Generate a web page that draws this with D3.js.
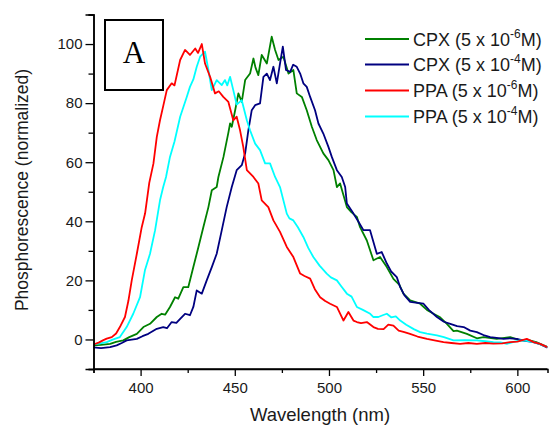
<!DOCTYPE html>
<html><head><meta charset="utf-8">
<script src="https://cdn.jsdelivr.net/npm/d3@7"></script>
<style>body{margin:0;background:#fff}svg{display:block}</style>
</head><body>
<script>
// Data (wavelength nm, normalized phosphorescence)
const cpx6 = [[375,-2],[379,-1.8],[383.8,-1.5],[387,-0.8],[390.8,-0.3],[394,0.8],[398,1.9],[401.5,4.2],[405,5.3],[408.6,7.6],[411.2,8.7],[413,8.4],[415.6,11],[418.3,14.3],[420,13.8],[422.7,17.7],[425.3,17.7],[428,24.5],[430.7,31.3],[433.3,38],[436,44.8],[437.8,50.5],[440.4,51.6],[441.3,55],[444,61.8],[446.6,70],[447.5,73.1],[448.4,72],[450.2,77.6],[451.9,83.3],[453.7,80.4],[455.5,87.8],[458.1,90],[459.9,95.1],[461,92],[462.5,89.5],[464.3,96.3],[465.5,95],[467,93.4],[469.6,102.5],[471.4,98],[473.2,94.6],[475.8,95.7],[478.5,90],[481.1,91.2],[482.9,83.3],[485.6,82.1],[488.2,77.6],[490.9,72],[493.5,67.5],[497,63],[499.7,60.7],[502.4,57.3],[504.2,51.6],[505.9,52.8],[509.5,44.8],[512,43],[514.8,41.5],[516.5,38],[520.1,33.5],[523.6,26.8],[527.1,27.9],[530.7,24.5],[534.2,20.5],[537.4,18.5],[539.5,15.5],[543.1,13.2],[548.4,12.1],[552,10],[555.5,8.7],[559,7.5],[562.6,5.3],[566.1,2.8],[567.9,3],[573.2,1.9],[578.5,0.4],[582,0.8],[589.1,0.2],[596.2,0.8],[601.5,-0.3],[606,-0.2],[610,-0.9],[616,-2.6]];
const cpx4 = [[375,-2.7],[379,-2.9],[383.8,-2.6],[387.3,-2],[390,-1.2],[392.6,-0.3],[398,0.2],[401,1.1],[404.1,1.9],[408.6,3.6],[412,4.2],[414,3.8],[416.5,5.9],[419,5.6],[421,7],[423.6,8.7],[426.2,8.2],[428,11],[429.8,16.6],[432.5,15.5],[435.1,20],[437.8,24.5],[440.4,29],[443.1,37],[445.7,44.8],[448.4,51.6],[451,57.3],[453.7,59],[455.5,63],[457.2,70.8],[459,77.6],[460.8,79.3],[463.4,79.9],[465.2,88.9],[467,90],[468.7,87.8],[470.5,92.3],[472.3,86.7],[474,93.4],[475.5,99.1],[477.2,91.2],[479.4,90.6],[481,93],[482.9,92.3],[484.7,90],[486.4,86.7],[488.2,85.5],[490,82.1],[492.6,77.6],[494.4,73.1],[497,69.7],[499.7,65.2],[501.5,61.8],[504.2,57.3],[506.8,55],[508.6,51.6],[509.5,46],[513,42.6],[515.5,40],[518.3,37],[521.8,37],[525.4,29],[528,29.6],[530.7,25.7],[533,23],[536,21.1],[537.8,17.7],[540,15],[543.1,12.7],[546,12.5],[550.2,12.1],[553,10],[557.3,7.6],[561,6],[564.4,5.3],[568,4.5],[571.5,4.2],[575,3],[578.5,2.5],[582,1.5],[585.6,0.8],[589,0.5],[592.6,0.2],[596,0.4],[599.7,0.2],[604,-0.5],[608,-0.8],[612,-1.6],[616,-2.8]];
const ppa6 = [[375,-1.7],[378,-1],[380,-0.3],[382,0.3],[384.7,0.8],[387,2],[389,4.2],[391.7,7.6],[393.5,13],[395.3,20],[398,29],[400.6,38],[402.4,42.7],[404.6,53],[406.8,59.5],[408.6,68.6],[410.3,74.2],[412,79],[413.9,84.4],[416.5,86.7],[418,86],[421,94.6],[423.6,98],[426.2,96.3],[429,98.5],[430.5,97],[432.5,100],[434.2,93.4],[436.9,88.9],[439.5,83.3],[441.5,84],[443.9,82.1],[446.6,80.4],[449.2,74.2],[451,75.4],[452.8,70.8],[454.5,65.2],[456.4,57.3],[458.1,56.2],[459.9,55],[462.5,52.8],[464.3,47.1],[467.8,44.8],[470.5,40.3],[474,36.4],[477.6,31.3],[481.1,27.9],[484.7,22.3],[487,21.5],[490,20.6],[492.5,17],[495.3,14.3],[498,13],[500.6,12.1],[504.2,11],[507.7,6.4],[510.3,9.3],[513,6.4],[514.8,5.9],[517,5.5],[520.1,5.9],[523.6,4.2],[526,3.6],[529,3.5],[531.5,5],[534.2,4.7],[537,3],[540,2.5],[543,1.9],[547,1],[552,0.2],[556,-0.3],[560.8,-0.9],[565,-1.2],[569.6,-1.5],[574,-1.2],[578.5,-1.5],[583,-1.2],[587.3,-1.4],[592,-1.3],[596.2,-0.9],[600,-0.7],[605,0.2],[608.6,-0.9],[612,-1.5],[616,-2.6]];
const ppa4 = [[375,-1.5],[378,-1.4],[382,-0.9],[385.5,0],[389,0.8],[392.6,4.2],[396.1,8.7],[399.7,14.3],[402.3,23.4],[405,29],[407.7,37],[410.3,47.1],[412,51.6],[413.5,55],[415.6,61.8],[418,67],[421,75.4],[424.5,82.1],[426.2,85.5],[428,88],[429.8,92.3],[431.6,95.7],[434.2,97.4],[436,91.2],[437.8,84.4],[440.4,87.8],[443.1,86.1],[444.8,87.8],[446,86],[447.5,88.9],[449.2,84.4],[451,79.5],[453.7,81],[456.4,74.2],[458.1,70.8],[460.8,66.3],[463.4,64.1],[466.1,59.6],[468.7,59.6],[471.4,55],[474,51.6],[477.6,42.6],[479,41],[481.1,40.3],[483.5,38],[486.4,34.7],[489,31],[491.7,27.9],[495,25],[498.8,22.3],[501,21],[504.2,20],[506.5,18],[509.5,15.5],[512,14.5],[514.8,11],[518,10],[521.9,8.7],[523.6,7.6],[526.2,7.6],[528.5,8.2],[530.7,8.7],[533,7.5],[535.5,7.8],[537.8,6.4],[541,5],[545,3.5],[548.4,2.5],[552,2],[557.3,1.4],[561,0.8],[566.1,-0.3],[572,-0.2],[578.5,-0.3],[583,-0.6],[587.3,-0.9],[591,-1],[594.4,-1.5],[598,-0.8],[601.5,-0.3],[605,-0.5],[608.6,-0.9],[612,-1.6],[616,-2.6]];

const seriesNames = ["CPX (5 x 10", "CPX (5 x 10", "PPA (5 x 10", "PPA (5 x 10"];
const seriesExp = ["-6", "-4", "-6", "-4"];
const seriesColors = ["#008000", "#000080", "#ff0000", "#00ffff"];
const seriesData = [cpx6, cpx4, ppa6, ppa4];
const drawOrder = [0, 1, 3, 2];

const xMajorTicks = [400, 450, 500, 550, 600];
const xMinorTicks = [375, 425, 475, 525, 575];
const yMajorTicks = [0, 20, 40, 60, 80, 100];
const yMinorTicks = [-10, 10, 30, 50, 70, 90, 110];

const W = 550, H = 427;
const FONT = "Arial, 'Liberation Sans', sans-serif";
const svg = d3.select("body").append("svg").attr("width", W).attr("height", H)
  .style("font-family", FONT);

const x = d3.scaleLinear().domain([375, 616]).range([93.5, 547.5]);
const y = d3.scaleLinear().domain([-10, 110]).range([369, 14.5]);

svg.append("defs").append("clipPath").attr("id", "clip")
  .append("rect").attr("x", x(375)).attr("y", y(110)).attr("width", x(616) - x(375)).attr("height", y(-10) - y(110));

const line = d3.line().x(d => x(d[0])).y(d => y(d[1]));
const g = svg.append("g").attr("clip-path", "url(#clip)");
drawOrder.forEach(i => {
  g.append("path").datum(seriesData[i]).attr("d", line)
    .attr("fill", "none").attr("stroke", seriesColors[i]).attr("stroke-width", 1.8)
    .attr("stroke-linejoin", "round");
});

// Axes
const xAxis = svg.append("g").attr("transform", `translate(0,${y(-10)})`)
  .call(d3.axisBottom(x).tickValues(xMajorTicks).tickSize(7).tickPadding(6).tickFormat(d3.format("d")));
svg.append("g").attr("transform", `translate(0,${y(-10)})`)
  .call(d3.axisBottom(x).tickValues(xMinorTicks).tickSize(4).tickFormat(""));
const yAxis = svg.append("g").attr("transform", `translate(${x(375)},0)`)
  .call(d3.axisLeft(y).tickValues(yMajorTicks).tickSize(8).tickPadding(3).tickFormat(d3.format("d")));
svg.append("g").attr("transform", `translate(${x(375)},0)`)
  .call(d3.axisLeft(y).tickValues(yMinorTicks).tickSize(5).tickFormat(""));
svg.selectAll(".domain").attr("stroke", "#000").attr("stroke-width", 1.5);
svg.selectAll(".tick line").attr("stroke", "#000").attr("stroke-width", 1.3);
svg.selectAll(".tick text").attr("font-size", 15).attr("fill", "#1a1a1a")
  .style("font-family", FONT);
xAxis.selectAll(".domain").attr("d", `M${x(375)},0H${x(616)}`);

// Axis labels
svg.append("text").attr("x", 320).attr("y", 421).attr("text-anchor", "middle")
  .attr("font-size", 18.5).attr("fill", "#1a1a1a").text("Wavelength (nm)");
svg.append("text").attr("transform", "translate(28,190) rotate(-90)").attr("text-anchor", "middle")
  .attr("font-size", 17.5).attr("fill", "#1a1a1a").text("Phosphorescence (normalized)");

// Panel label box
svg.append("rect").attr("x", 105).attr("y", 20).attr("width", 58).attr("height", 70)
  .attr("fill", "#fff").attr("stroke", "#000").attr("stroke-width", 2);
svg.append("text").attr("x", 134).attr("y", 63).attr("text-anchor", "middle")
  .attr("font-size", 31).attr("font-family", "'Liberation Serif', 'DejaVu Serif', serif").text("A");

// Legend
const legY = [39, 64.5, 90.5, 116.5];
seriesNames.forEach((name, i) => {
  svg.append("line").attr("x1", 365).attr("x2", 409).attr("y1", legY[i]).attr("y2", legY[i])
    .attr("stroke", seriesColors[i]).attr("stroke-width", 1.8);
  const t = svg.append("text").attr("x", 413).attr("y", legY[i] + 6.5).attr("font-size", 18).attr("fill", "#1a1a1a");
  t.append("tspan").text(name);
  t.append("tspan").attr("font-size", 12).attr("dy", -8).text(seriesExp[i]);
  t.append("tspan").attr("dy", 8).text("M)");
});
</script>
</body></html>
